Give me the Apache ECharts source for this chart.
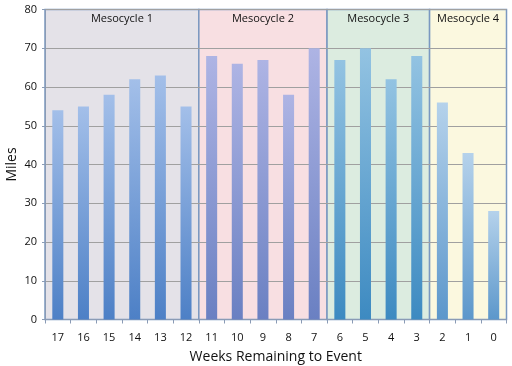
<!DOCTYPE html>
<html><head><meta charset="utf-8">
<script src="https://cdn.jsdelivr.net/npm/echarts@6/dist/echarts.min.js"></script>
<style>html,body{margin:0;padding:0;background:#fff}#c{width:512px;height:366px}</style>
</head><body><div id="c"></div>
<script>
const weeks = ['17','16','15','14','13','12','11','10','9','8','7','6','5','4','3','2','1','0'];
const miles = [54,55,58,62,63,55,68,66,67,58,70,67,70,62,68,56,43,28];
const phaseOf = [0,0,0,0,0,0,1,1,1,1,1,2,2,2,2,3,3,3];
const phaseNames = ['Mesocycle 1','Mesocycle 2','Mesocycle 3','Mesocycle 4'];
const phaseStart = [0,6,11,15];
const phaseEnd = [6,11,15,18];
const phaseBg = ['#e4e2e8','#f8dfe2','#dcece0','#fbf8df'];
const barTop = ['#a3bfe9','#aeb4e4','#93c3e2','#b5d2eb'];
const barBot = ['#4d80c6','#6a80c2','#3d8ac1','#5c97cb'];

const chart = echarts.init(document.getElementById('c'));
const font = '"Open Sans", "DejaVu Sans", sans-serif';
chart.setOption({
  animation:false,
  grid:{left:45,top:9.5,right:5.5,bottom:46.5,outerBoundsMode:'none',containLabel:false},
  xAxis:[{
    type:'category', data:weeks, zlevel:1,
    axisLine:{lineStyle:{color:'#8a9bb5',width:1}},
    axisTick:{show:true,length:4,lineStyle:{color:'#8a9bb5'}},
    axisLabel:{color:'#111',fontSize:11,fontFamily:font,margin:13},
    name:'Weeks Remaining to Event', nameLocation:'middle', nameGap:31,
    nameTextStyle:{color:'#111',fontSize:14,fontFamily:font}
  },{
    type:'value', min:0, max:18, show:false
  }],
  yAxis:{
    type:'value', min:0, max:80, interval:10, zlevel:1,
    axisLine:{show:true,lineStyle:{color:'#8a9bb5'}},
    axisTick:{show:true,length:3,lineStyle:{color:'#8a9bb5'}},
    axisLabel:{color:'#111',fontSize:11,fontFamily:font,margin:8},
    splitLine:{show:true,lineStyle:{color:'#a0a0a0',width:1}},
    name:'Miles', nameLocation:'middle', nameGap:26, nameMoveOverlap:false,
    nameTextStyle:{color:'#111',fontSize:14,fontFamily:font}
  },
  series:[{
    type:'line', xAxisIndex:1, data:[], silent:true, zlevel:0,
    markArea:{
      silent:true, zlevel:0,
      label:{show:true,position:'insideTop',distance:5,color:'#111',fontSize:11,fontFamily:font},
      data: phaseNames.map((n,i)=>[
        {name:n, xAxis:phaseStart[i], itemStyle:{color:phaseBg[i],borderColor:'#7a98c0',borderWidth:1.5}},
        {xAxis:phaseEnd[i]}
      ])
    }
  },{
    type:'bar', barWidth:'43%', zlevel:1, z:3,
    data: miles.map((v,i)=>({value:v,itemStyle:{color:new echarts.graphic.LinearGradient(0,0,0,1,[
      {offset:0,color:barTop[phaseOf[i]]},{offset:1,color:barBot[phaseOf[i]]}],false)}}))
  }]
});
</script></body></html>
